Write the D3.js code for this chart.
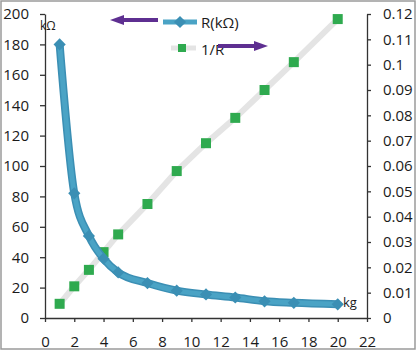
<!DOCTYPE html>
<html>
<head>
<meta charset="utf-8">
<script src="https://cdn.jsdelivr.net/npm/d3@7"></script>
<style>
  body { margin: 0; background: #fff; }
  text { font-family: "Open Sans", sans-serif; fill: #1a1a1a; }
  .axis path, .axis line { stroke: #333; stroke-width: 1.3; }
</style>
</head>
<body>
<div id="d3-container"></div>
<script>
/* CONSTANTS AND GLOBALS */
const width = 419,
  height = 351,
  margin = { top: 14, bottom: 33, left: 45, right: 52 };

// data
const weights = [1, 2, 3, 4, 5, 7, 9, 11, 13, 15, 17, 20];          // kg
const resistance = [180, 82, 54, 39, 30, 23, 18, 15.5, 13.5, 11, 10, 9]; // kΩ
const inverseR = [0.0056, 0.0125, 0.019, 0.026, 0.033, 0.045, 0.058, 0.069, 0.079, 0.090, 0.101, 0.118];
const xTicks = [0, 2, 4, 6, 8, 10, 12, 14, 16, 18, 20, 22];
const leftTicks = [0, 20, 40, 60, 80, 100, 120, 140, 160, 180, 200];
const rightTicks = [0, 0.01, 0.02, 0.03, 0.04, 0.05, 0.06, 0.07, 0.08, 0.09, 0.1, 0.11, 0.12];
const seriesNames = ["R(kΩ)", "1/R"];

const blue = "#4aa3c5", blueDark = "#3b8fb4", green = "#2faa4f", grey = "#e4e4e4", purple = "#5e2f91";

/* SVG */
const svg = d3.select("#d3-container")
  .append("svg")
  .attr("width", width)
  .attr("height", height);

svg.append("clipPath").attr("id", "frame")
  .append("rect").attr("x", 1).attr("y", 1).attr("width", 414).attr("height", 348);

const g = svg.append("g").attr("clip-path", "url(#frame)");

/* SCALES */
const xScale = d3.scaleLinear().domain([0, 22]).range([margin.left, width - margin.right]);
const yLeft = d3.scaleLinear().domain([0, 200]).range([height - margin.bottom, margin.top]);
const yRight = d3.scaleLinear().domain([0, 0.12]).range([height - margin.bottom, margin.top]);

/* AXES */
g.append("g").attr("class", "axis")
  .attr("transform", `translate(0,${yLeft(0)})`)
  .call(d3.axisBottom(xScale).tickValues(xTicks).tickSize(4).tickPadding(14).tickSizeOuter(0))
  .call(a => a.selectAll("text").attr("font-size", 15));

g.append("g").attr("class", "axis")
  .attr("transform", `translate(${xScale(0)},0)`)
  .call(d3.axisLeft(yLeft).tickValues(leftTicks).tickSize(5).tickPadding(11).tickSizeOuter(0))
  .call(a => a.selectAll("text").attr("font-size", 15));

g.append("g").attr("class", "axis")
  .attr("transform", `translate(${xScale(22)},0)`)
  .call(d3.axisRight(yRight).tickValues(rightTicks).tickSize(4).tickPadding(12).tickSizeOuter(0)
    .tickFormat(d => String(+d.toFixed(2))))
  .call(a => a.selectAll("text").attr("font-size", 15));

// unit labels
g.append("text").attr("x", 40).attr("y", 30).attr("font-size", 12).attr("fill", "#555").text("kΩ");
g.append("text").attr("x", 343).attr("y", 307).attr("font-size", 13).attr("fill", "#2d5a7a").text("kg");

/* 1/R SERIES (right axis) */
const invData = weights.map((w, i) => ({ x: w, y: inverseR[i] }));
g.append("path")
  .datum(invData)
  .attr("fill", "none")
  .attr("stroke", grey)
  .attr("stroke-width", 6)
  .attr("d", d3.line().x(d => xScale(d.x)).y(d => yRight(d.y)));

g.selectAll(".sq")
  .data(invData)
  .join("rect")
  .attr("class", "sq")
  .attr("x", d => xScale(d.x) - 5)
  .attr("y", d => yRight(d.y) - 5)
  .attr("width", 10).attr("height", 10)
  .attr("fill", green);

/* R SERIES (left axis) */
const rData = weights.map((w, i) => ({ x: w, y: resistance[i] }));
const rLine = d3.line().x(d => xScale(d.x)).y(d => yLeft(d.y)).curve(d3.curveMonotoneX);
g.append("path").datum(rData)
  .attr("fill", "none").attr("stroke", blueDark).attr("stroke-width", 8)
  .attr("d", rLine);
g.append("path").datum(rData)
  .attr("fill", "none").attr("stroke", blue).attr("stroke-width", 5)
  .attr("d", rLine);

const diamond = d3.symbol().type(d3.symbolDiamond2).size(95);
g.selectAll(".dm")
  .data(rData)
  .join("path")
  .attr("class", "dm")
  .attr("transform", d => `translate(${xScale(d.x)},${yLeft(d.y)})`)
  .attr("d", diamond)
  .attr("fill", blueDark);

/* LEGEND */
const legend = g.append("g");
// R(kΩ)
legend.append("line").attr("x1", 163).attr("x2", 197).attr("y1", 22).attr("y2", 22)
  .attr("stroke", blue).attr("stroke-width", 5);
legend.append("path").attr("transform", "translate(180,22)").attr("d", diamond).attr("fill", blueDark);
legend.append("text").attr("x", 201).attr("y", 28).attr("font-size", 15).text(seriesNames[0]);
// 1/R
legend.append("line").attr("x1", 171).attr("x2", 196).attr("y1", 48).attr("y2", 48)
  .attr("stroke", grey).attr("stroke-width", 5);
legend.append("rect").attr("x", 178).attr("y", 44).attr("width", 8).attr("height", 8).attr("fill", green);
legend.append("text").attr("x", 201).attr("y", 55).attr("font-size", 15).text(seriesNames[1]);

// purple arrows pointing at the legend entries
const arrow = (x1, x2, y) => {
  const dir = Math.sign(x2 - x1);
  legend.append("line").attr("x1", x1).attr("x2", x2 - dir * 10).attr("y1", y).attr("y2", y)
    .attr("stroke", purple).attr("stroke-width", 4);
  legend.append("path")
    .attr("d", `M${x2},${y} L${x2 - dir * 14},${y - 5} L${x2 - dir * 14},${y + 5} Z`)
    .attr("fill", purple);
};
arrow(158, 110, 20);
arrow(218, 268, 46);

/* FRAME */
svg.append("rect").attr("x", 1).attr("y", 1).attr("width", 414).attr("height", 348)
  .attr("fill", "none").attr("stroke", "#9a9a9a").attr("stroke-width", 1.5);
</script>
</body>
</html>
